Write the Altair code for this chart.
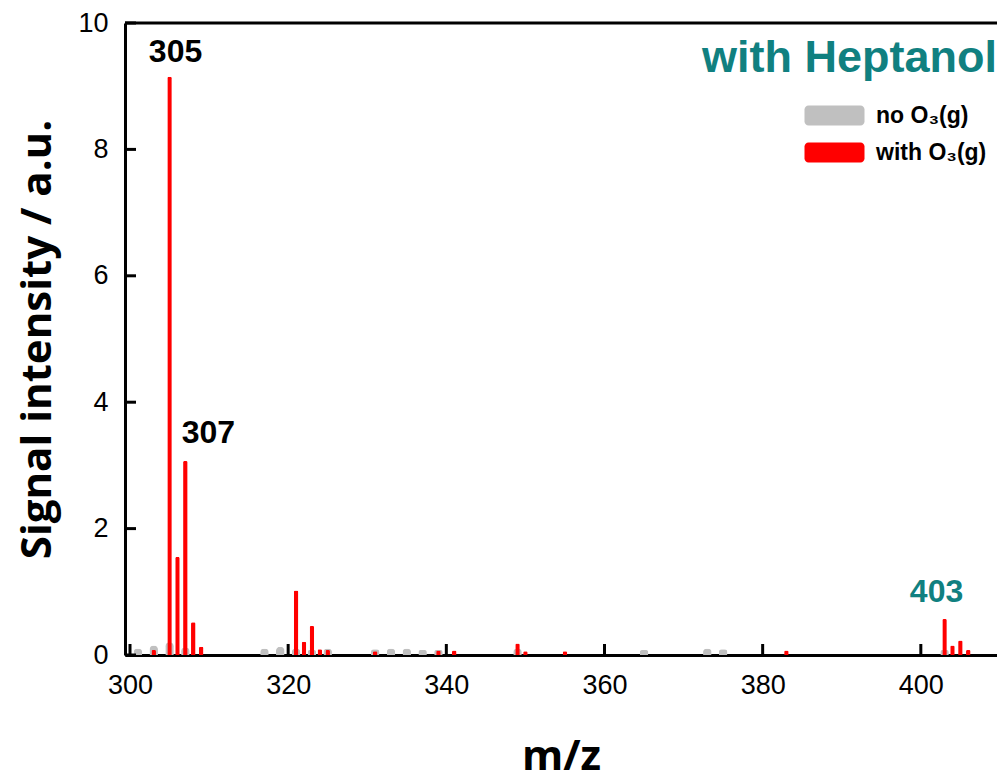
import altair as alt
import pandas as pd

# ---- data ----
gray_mz = [301, 303, 305, 307, 317, 319, 321, 323, 325, 331, 333, 335, 337, 339, 349, 365, 373, 375, 403]
gray_int = [0.10, 0.15, 0.20, 0.12, 0.10, 0.13, 0.10, 0.08, 0.10, 0.09, 0.10, 0.10, 0.08, 0.08, 0.10, 0.08, 0.10, 0.09, 0.08]

red_mz = [303, 305, 306, 307, 308, 309, 321, 322, 323, 324, 325, 331, 339, 341, 349, 350, 355, 383, 403, 404, 405, 406]
red_int = [0.08, 9.15, 1.55, 3.07, 0.52, 0.13, 1.02, 0.21, 0.46, 0.09, 0.08, 0.06, 0.07, 0.07, 0.18, 0.06, 0.06, 0.07, 0.57, 0.15, 0.23, 0.08]

series_names = ["no O₃(g)", "with O₃(g)"]
series_colors = ["#c0c0c0", "#ff0000"]

x_tick_values = [300, 320, 340, 360, 380, 400]
y_tick_values = [0, 2, 4, 6, 8, 10]

black_labels = ["305", "307"]
teal_labels = ["403"]
title_text = ["with Heptanol"]

TEAL = "#108080"
FONT = "Liberation Sans"
TFONT = "Open Sans"
W, H = 872, 632

# ---- tables ----
df_gray = pd.DataFrame({"mz": gray_mz, "intensity": gray_int, "series": series_names[0]})
df_red = pd.DataFrame({"mz": red_mz, "intensity": red_int, "series": series_names[1]})


def label_df(labels):
    mzs = [int(l) for l in labels]
    return pd.DataFrame({"mz": mzs, "intensity": [red_int[red_mz.index(m)] for m in mzs], "label": labels})


xscale = alt.Scale(domain=[300, 409], nice=False, zero=False)
yscale = alt.Scale(domain=[0, 10], nice=False, zero=True)

xaxis = alt.Axis(title="m/z", values=x_tick_values, ticks=False, grid=False,
                 domainColor="black", domainWidth=3,
                 labelFont=FONT, labelFontSize=27, labelColor="black", labelPadding=17,
                 labelFlush=False, labelOverlap=False,
                 titleFont=TFONT, titleFontSize=42, titleFontWeight="bold", titleColor="black",
                 titlePadding=38)
yaxis = alt.Axis(title="Signal intensity / a.u.", values=y_tick_values, ticks=False, grid=False,
                 domainColor="black", domainWidth=3,
                 labelFont=FONT, labelFontSize=27, labelColor="black", labelPadding=17,
                 labelFlush=False, labelOverlap=False,
                 titleFont=TFONT, titleFontSize=42, titleFontWeight="bold", titleColor="black",
                 titlePadding=18)

X = alt.X("mz:Q", scale=xscale, axis=xaxis)
Y = alt.Y("intensity:Q", scale=yscale, axis=yaxis)

legend_path = ("M-2.6,-1H2.6A0.4,0.4 0 0 1 3,-0.6V0.6A0.4,0.4 0 0 1 2.6,1"
               "H-2.6A0.4,0.4 0 0 1 -3,0.6V-0.6A0.4,0.4 0 0 1 -2.6,-1Z")

color = alt.Color("series:N",
                  scale=alt.Scale(domain=series_names, range=series_colors),
                  legend=alt.Legend(title=None, orient="none", legendX=698, legendY=81,
                                    symbolType=legend_path, symbolSize=400, symbolStrokeWidth=0,
                                    symbolOpacity=1, labelFont=FONT, labelFontSize=23,
                                    labelFontWeight="bold", labelColor="black", labelOffset=30,
                                    rowPadding=13, padding=0))

gray_layer = alt.Chart(df_gray).mark_bar(size=8.5, cornerRadiusEnd=4, opacity=1).encode(x=X, y=Y, color=color)
red_layer = alt.Chart(df_red).mark_bar(size=4.5, cornerRadiusEnd=1.5, opacity=1).encode(x=X, y=Y, color=color)

xticks = alt.Chart(pd.DataFrame({"mz": x_tick_values})).mark_rule(strokeWidth=3, color="black").encode(
    x=X, y=alt.value(H), y2=alt.value(H - 11))
yticks = alt.Chart(pd.DataFrame({"intensity": y_tick_values})).mark_rule(strokeWidth=3, color="black").encode(
    y=Y, x=alt.value(0), x2=alt.value(11))
top_border = alt.Chart(pd.DataFrame({"intensity": [10]})).mark_rule(strokeWidth=3, color="black").encode(
    y=Y, x=alt.value(0), x2=alt.value(W))

lab_df = label_df(black_labels)
lab305 = alt.Chart(lab_df[lab_df.label == "305"]).mark_text(
    dx=6, dy=-25, font=FONT, fontSize=32, fontWeight="bold", color="black", baseline="middle").encode(
    x=X, y=Y, text="label:N")
lab307 = alt.Chart(lab_df[lab_df.label == "307"]).mark_text(
    dx=23, dy=-28, font=FONT, fontSize=32, fontWeight="bold", color="black", baseline="middle").encode(
    x=X, y=Y, text="label:N")
lab403 = alt.Chart(label_df(teal_labels)).mark_text(
    dx=-8, dy=-27, font=FONT, fontSize=32, fontWeight="bold", color=TEAL, baseline="middle").encode(
    x=X, y=Y, text="label:N")

title_layer = alt.Chart(pd.DataFrame({"t": title_text})).mark_text(
    align="right", baseline="middle", font=FONT, fontSize=45, fontWeight="bold", color=TEAL).encode(
    text="t:N", x=alt.value(W), y=alt.value(35))

chart = alt.layer(gray_layer, red_layer, xticks, yticks, top_border, lab305, lab307, lab403, title_layer).properties(
    width=W, height=H,
    autosize=alt.AutoSizeParams(type="none"),
    padding={"left": 117, "top": 15, "right": 0, "bottom": 125},
).configure_view(stroke=None)

chart.save("out.html", embed_options={"renderer": "svg", "actions": False})
